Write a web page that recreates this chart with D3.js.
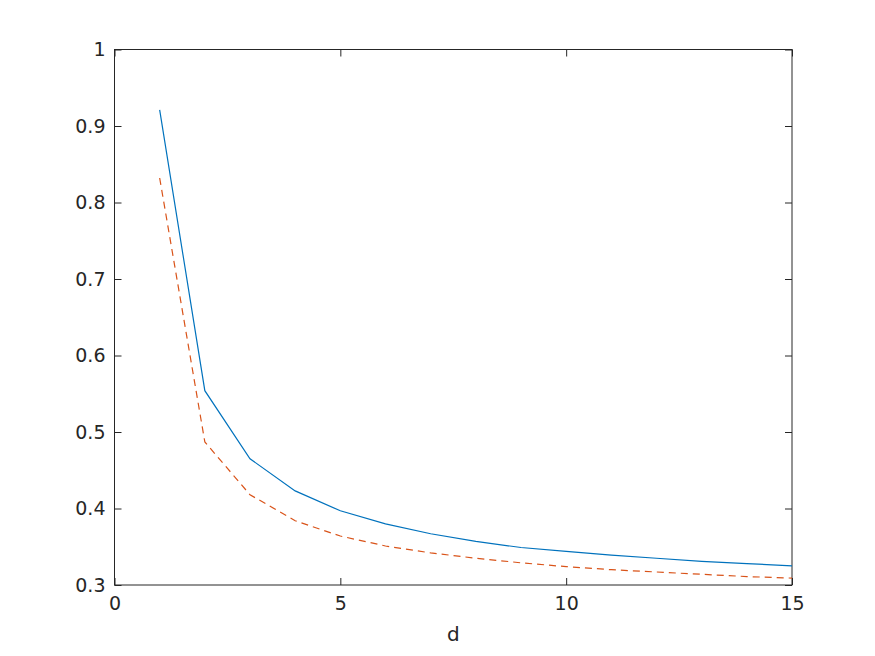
<!DOCTYPE html>
<html>
<head>
<meta charset="utf-8">
<script src="https://cdn.jsdelivr.net/npm/d3@7"></script>
<style>
  body { margin: 0; background: #fff; }
  text { font-family: "DejaVu Sans", sans-serif; fill: #262626; }
</style>
</head>
<body>
<svg width="875" height="656"></svg>
<script>
// data
var dValues = [1, 2, 3, 4, 5, 6, 7, 8, 9, 10, 11, 12, 13, 14, 15];
var solidSeries = [0.921, 0.554, 0.465, 0.423, 0.397, 0.380, 0.367, 0.357, 0.349, 0.344, 0.339, 0.335, 0.331, 0.328, 0.325];
var dashedSeries = [0.832, 0.487, 0.418, 0.384, 0.364, 0.351, 0.342, 0.335, 0.329, 0.324, 0.320, 0.317, 0.314, 0.311, 0.309];
var xTicks = [0, 5, 10, 15];
var yTicks = [0.3, 0.4, 0.5, 0.6, 0.7, 0.8, 0.9, 1];

function main() {
    var svg = d3.select("svg"),
        plotLeft = 114.5, plotTop = 49.5, plotRight = 792, plotBottom = 585;

    var x = d3.scaleLinear().domain([0, 15]).range([plotLeft, plotRight]);
    var y = d3.scaleLinear().domain([0.3, 1]).range([plotBottom, plotTop]);

    var axisColor = "#262626";

    // box
    svg.append("rect")
        .attr("x", plotLeft).attr("y", plotTop)
        .attr("width", plotRight - plotLeft).attr("height", plotBottom - plotTop)
        .attr("fill", "none").attr("stroke", axisColor).attr("stroke-width", 1);

    function styleAxis(g) {
        g.select(".domain").remove();
        g.selectAll(".tick line").attr("stroke", axisColor);
        g.selectAll(".tick text").attr("font-size", "19px").attr("fill", axisColor)
            .attr("font-family", "DejaVu Sans, sans-serif");
    }

    // bottom axis, ticks inside
    svg.append("g")
        .attr("transform", "translate(0," + plotBottom + ")")
        .call(d3.axisBottom(x).tickValues(xTicks).tickSizeInner(-7).tickSizeOuter(0).tickPadding(12))
        .call(styleAxis);

    // top ticks
    svg.append("g")
        .attr("transform", "translate(0," + plotTop + ")")
        .call(d3.axisTop(x).tickValues(xTicks).tickSizeInner(-7).tickSizeOuter(0).tickFormat(""))
        .call(styleAxis);

    // left axis
    svg.append("g")
        .attr("transform", "translate(" + plotLeft + ",0)")
        .call(d3.axisLeft(y).tickValues(yTicks).tickSizeInner(-7).tickSizeOuter(0).tickPadding(9)
            .tickFormat(function(d) { return d === 1 ? "1" : d3.format(".1f")(d); }))
        .call(styleAxis);

    // right ticks
    svg.append("g")
        .attr("transform", "translate(" + plotRight + ",0)")
        .call(d3.axisRight(y).tickValues(yTicks).tickSizeInner(-7).tickSizeOuter(0).tickFormat(""))
        .call(styleAxis);

    // x label
    svg.append("text")
        .attr("x", (plotLeft + plotRight) / 2)
        .attr("y", 641)
        .attr("text-anchor", "middle")
        .attr("font-size", "20px")
        .text("d");

    var line = d3.line()
        .x(function(d, i) { return x(dValues[i]); })
        .y(function(d) { return y(d); });

    svg.append("path")
        .datum(solidSeries)
        .attr("fill", "none")
        .attr("stroke", "#0072BD")
        .attr("stroke-width", 1.2)
        .attr("d", line);

    svg.append("path")
        .datum(dashedSeries)
        .attr("fill", "none")
        .attr("stroke", "#D95319")
        .attr("stroke-width", 1.2)
        .attr("stroke-dasharray", "7,5")
        .attr("d", line);
}
main();
</script>
</body>
</html>
